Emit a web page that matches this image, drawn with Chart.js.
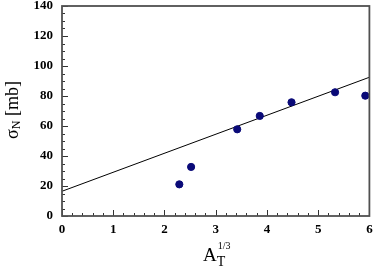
<!DOCTYPE html>
<html>
<head>
<meta charset="utf-8">
<script src="https://cdn.jsdelivr.net/npm/chart.js@4.4.0/dist/chart.umd.min.js"></script>
<style>
  html, body { margin: 0; padding: 0; background: #fff; }
</style>
</head>
<body>
<canvas id="myChart" width="374" height="267"></canvas>
<script>
// ---- data ----
const aCubeRoot = [2.29, 2.52, 3.42, 3.86, 4.48, 5.33, 5.92];
const sigmaN    = [21.1, 32.7, 57.8, 66.7, 75.8, 82.5, 80.2];
const fitX      = [0, 6];
const fitY      = [16.5, 92.5];
const xTicks    = [0, 1, 2, 3, 4, 5, 6];
const yTicks    = [0, 20, 40, 60, 80, 100, 120, 140];

const SERIF = '"Liberation Serif", "Times New Roman", serif';

// frame + inward ticks (major and minor), and the two axis titles
const framePlugin = {
    id: 'frame',
    afterDraw(chart) {
        const { ctx, chartArea: a, scales: { x, y } } = chart;
        ctx.save();
        ctx.strokeStyle = '#333';
        ctx.lineWidth = 1;
        ctx.beginPath();
        for (let v = 0; v <= 6.0001; v += 0.2) {
            const px = Math.round(x.getPixelForValue(v)) + 0.5;
            const major = Math.abs(v - Math.round(v)) < 1e-6;
            ctx.moveTo(px, a.bottom);
            ctx.lineTo(px, a.bottom - (major ? 6 : 3));
        }
        for (let v = 0; v <= 140; v += 5) {
            const py = Math.round(y.getPixelForValue(v)) + 0.5;
            const major = v % 20 === 0;
            ctx.moveTo(a.left, py);
            ctx.lineTo(a.left + (major ? 6 : 3), py);
        }
        ctx.stroke();
        ctx.strokeStyle = '#505050';
        ctx.lineWidth = 1.8;
        ctx.strokeRect(a.left, a.top, a.right - a.left, a.bottom - a.top);

        // x title: A_T^{1/3}
        ctx.fillStyle = '#000';
        ctx.textBaseline = 'alphabetic';
        ctx.textAlign = 'left';
        ctx.font = '19px ' + SERIF;
        const bx = 203, by = 261;
        ctx.fillText('A', bx, by);
        const aw = ctx.measureText('A').width;
        ctx.font = '14px ' + SERIF;
        ctx.fillText('T', bx + aw, by + 5);
        ctx.font = '10px ' + SERIF;
        ctx.fillText('1/3', bx + aw + 1, by - 12);

        // y title: σ_N [mb]
        ctx.translate(18, 110);
        ctx.rotate(-Math.PI / 2);
        ctx.font = '18px ' + SERIF;
        const s1 = 'σ', s2 = 'N', s3 = ' [mb]';
        const w1 = ctx.measureText(s1).width;
        ctx.font = '12px ' + SERIF;
        const w2 = ctx.measureText(s2).width;
        ctx.font = '18px ' + SERIF;
        const w3 = ctx.measureText(s3).width;
        let cx = -(w1 + w2 + w3) / 2;
        ctx.fillText(s1, cx, 0);
        ctx.font = '12px ' + SERIF;
        ctx.fillText(s2, cx + w1, 2);
        ctx.font = '18px ' + SERIF;
        ctx.fillText(s3, cx + w1 + w2, 0);
        ctx.restore();
    }
};

const ctx = document.getElementById('myChart').getContext('2d');
new Chart(ctx, {
    type: 'scatter',
    data: {
        datasets: [
            {
                label: 'data',
                data: aCubeRoot.map((v, i) => ({ x: v, y: sigmaN[i] })),
                backgroundColor: '#0a0a78',
                borderColor: '#0a0a78',
                pointRadius: 3.6,
                pointHoverRadius: 3.6
            },
            {
                label: 'fit',
                type: 'line',
                data: fitX.map((v, i) => ({ x: v, y: fitY[i] })),
                borderColor: '#000',
                borderWidth: 1,
                pointRadius: 0,
                fill: false
            }
        ]
    },
    plugins: [framePlugin],
    options: {
        responsive: false,
        animation: false,
        devicePixelRatio: 1,
        layout: { padding: { left: 0, right: 3, top: 6, bottom: 0 } },
        plugins: { legend: { display: false }, tooltip: { enabled: false } },
        scales: {
            x: {
                type: 'linear',
                min: 0, max: 6,
                afterFit: s => { s.height = 51; s.paddingLeft = 0; s.paddingRight = 0; },
                afterBuildTicks: s => { s.ticks = xTicks.map(v => ({ value: v })); },
                grid: { display: false, drawTicks: false },
                border: { display: false },
                ticks: {
                    padding: 6,
                    color: '#000',
                    font: { family: SERIF, size: 13, weight: 'bold' }
                }
            },
            y: {
                type: 'linear',
                min: 0, max: 140,
                afterFit: s => { s.width = 62; s.paddingTop = 0; s.paddingBottom = 0; },
                afterBuildTicks: s => { s.ticks = yTicks.map(v => ({ value: v })); },
                grid: { display: false, drawTicks: false },
                border: { display: false },
                ticks: {
                    padding: 9,
                    color: '#000',
                    font: { family: SERIF, size: 13, weight: 'bold' }
                }
            }
        }
    }
});
</script>
</body>
</html>
